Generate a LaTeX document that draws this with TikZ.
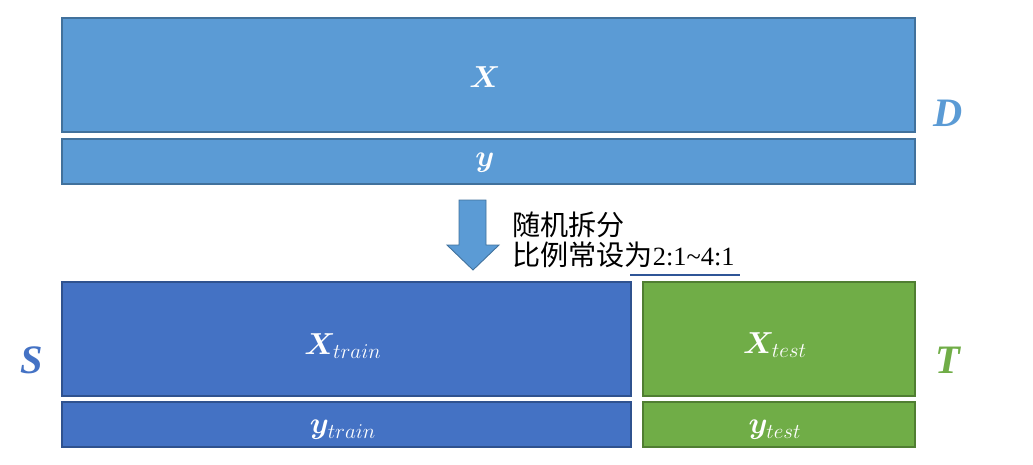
\documentclass[tikz,border=0pt]{standalone}
\usepackage{fontspec}
\usepackage{bm}
\newfontfamily\cjk{Noto Sans CJK SC}
\newfontfamily\numfont{Liberation Serif}
\newfontfamily\setfont{Liberation Serif}
\definecolor{fullfill}{HTML}{5B9BD5}
\definecolor{fullline}{HTML}{41719C}
\definecolor{trainfill}{HTML}{4472C4}
\definecolor{trainline}{HTML}{2F528F}
\definecolor{testfill}{HTML}{70AD47}
\definecolor{testline}{HTML}{507E32}
\definecolor{ruleblue}{HTML}{2F5597}
\begin{document}
\begin{tikzpicture}[x=0.02cm,y=-0.02cm,
  databox/.style={rectangle,draw,line width=0.8pt,inner sep=0pt},
  boxtext/.style={text=white,inner sep=0pt,font=\fontsize{16.5}{18}\selectfont},
  setlabel/.style={font=\setfont\bfseries\itshape\fontsize{23}{28}\selectfont}]
  \useasboundingbox (0,0) rectangle (1033,464);

  % 原始数据集 D
  \node[databox,fill=fullfill,draw=fullline,minimum width=17.06cm,minimum height=2.28cm]
    (X) at (488.5,75) {};
  \node[databox,fill=fullfill,draw=fullline,minimum width=17.06cm,minimum height=0.9cm]
    (y) at (488.5,161.5) {};
  \node[boxtext] (Xlbl) at (485,77) {$\bm{X}$};
  \node[boxtext] (ylbl) at (485,163) {$\bm{y}$};
  \node[setlabel,text=fullfill] (D) at (948,113) {D};

  % 向下箭头
  \fill[fullfill,draw=fullline,line width=0.5pt]
    (459,200) -- (486,200) -- (486,245) -- (499,245) -- (473,270)
    -- (447,245) -- (459,245) -- cycle;

  % 说明文字
  \node[anchor=north west,align=left,inner sep=0pt,
    font=\cjk\fontsize{16}{17.5}\selectfont] (note) at (512,211)
    {随机拆分\\比例常设为{\numfont\fontsize{15}{17.5}\selectfont 2:1\char"007E 4:1}};
  \coordinate (ulA) at (630,275);
  \coordinate (ulB) at (740,275);
  \draw[ruleblue,line width=0.9pt] (ulA) -- (ulB);

  % 训练集 S
  \node[databox,fill=trainfill,draw=trainline,minimum width=11.38cm,minimum height=2.28cm]
    (Xtrain) at (346.5,339) {};
  \node[databox,fill=trainfill,draw=trainline,minimum width=11.38cm,minimum height=0.9cm]
    (ytrain) at (346.5,424.5) {};
  \node[boxtext] (Xtrainlbl) at (343,346) {$\bm{X}_{train}$};
  \node[boxtext] (ytrainlbl) at (343,430) {$\bm{y}_{train}$};
  \node[setlabel,text=trainfill] (S) at (32,360) {S};

  % 测试集 T
  \node[databox,fill=testfill,draw=testline,minimum width=5.44cm,minimum height=2.28cm]
    (Xtest) at (779,339) {};
  \node[databox,fill=testfill,draw=testline,minimum width=5.44cm,minimum height=0.9cm]
    (ytest) at (779,424.5) {};
  \node[boxtext] (Xtestlbl) at (775,345) {$\bm{X}_{test}$};
  \node[boxtext] (ytestlbl) at (775,430) {$\bm{y}_{test}$};
  \node[setlabel,text=testfill] (T) at (948,360) {T};
\end{tikzpicture}
\end{document}
